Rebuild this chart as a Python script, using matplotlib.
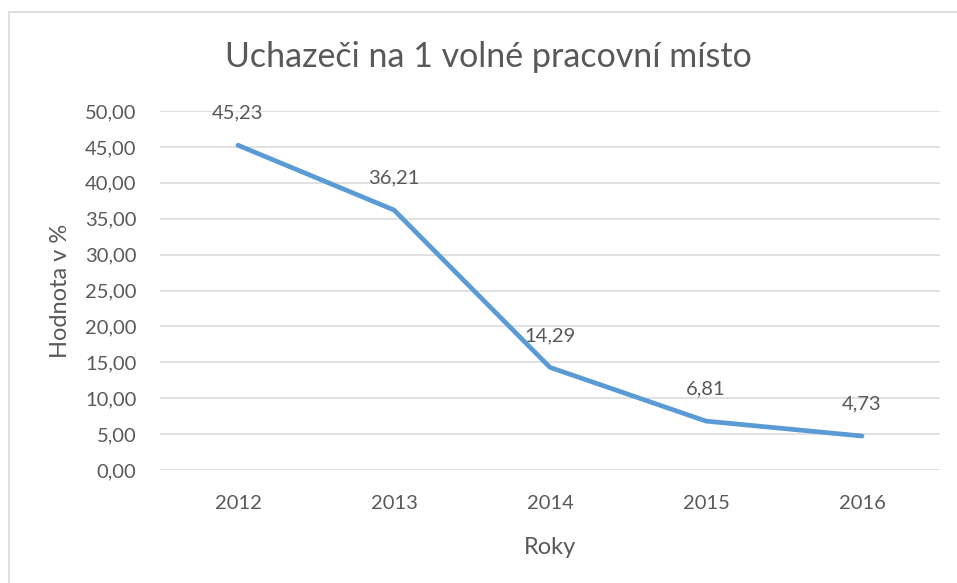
import matplotlib.pyplot as plt
from matplotlib.patches import Rectangle

# Data
years = ["2012", "2013", "2014", "2015", "2016"]
values = [45.23, 36.21, 14.29, 6.81, 4.73]
y_ticks = [0, 5, 10, 15, 20, 25, 30, 35, 40, 45, 50]

TEXT = "#595959"
LINE = "#5B9BD5"
GRID = "#D9D9D9"

plt.rcParams["font.family"] = ["Lato", "DejaVu Sans"]

fig = plt.figure(figsize=(9.57, 5.83), dpi=100)
ax = fig.add_axes([160 / 957, 1 - 470 / 583, 780 / 957, 359 / 583])

# chart frame (only left/top visible in the reference)
fig.patches.append(Rectangle((9 / 957, -0.1), 1.2, 1 - 12 / 583 + 0.1,
                             transform=fig.transFigure, fill=False,
                             edgecolor=GRID, linewidth=1.2))

x = list(range(len(years)))
ax.plot(x, values, color=LINE, linewidth=3.4, solid_capstyle="round",
        solid_joinstyle="round", zorder=3)

for xi, v in zip(x, values):
    ax.annotate(f"{v:.2f}".replace(".", ","), (xi, v), xytext=(0, 23),
                textcoords="offset points", ha="center", va="center",
                fontsize=14.5, color=TEXT)

ax.set_xlim(-0.5, len(years) - 0.5)
ax.set_ylim(0, 50)
ax.set_xticks(x)
ax.set_xticklabels(years)
ax.set_yticks(y_ticks)
ax.set_yticklabels([f"{t:.2f}".replace(".", ",") for t in y_ticks])
ax.tick_params(axis="both", length=0, labelsize=14.5, labelcolor=TEXT)
ax.tick_params(axis="y", pad=17)
ax.tick_params(axis="x", pad=18)

ax.grid(axis="y", color=GRID, linewidth=1.1)
ax.set_axisbelow(True)
for s in ax.spines.values():
    s.set_visible(False)

ax.set_ylabel("Hodnota v %", fontsize=17, color=TEXT, labelpad=10)
ax.set_xlabel("Roky", fontsize=17, color=TEXT, labelpad=18)
fig.text(488 / 957, 1 - 57 / 583, "Uchazeči na 1 volné pracovní místo",
         ha="center", va="center", fontsize=24.5, color=TEXT)

fig.savefig("out.png", dpi=100)
